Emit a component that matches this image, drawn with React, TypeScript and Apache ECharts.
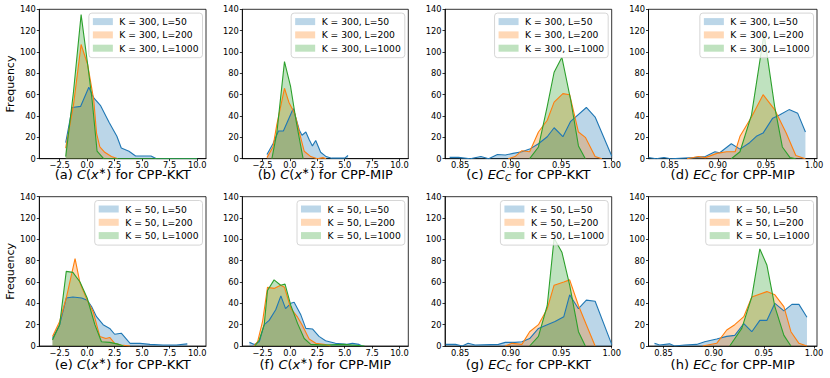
import React, { useEffect, useRef } from "react";
import * as echarts from "echarts";

const TOP_NAMES = ["K = 300, L=50", "K = 300, L=200", "K = 300, L=1000"];
const BOTTOM_NAMES = ["K = 50, L=50", "K = 50, L=200", "K = 50, L=1000"];
const C_TICKS = [-2.5, 0, 2.5, 5, 7.5, 10];
const EC_TICKS = [0.85, 0.9, 0.95, 1.0];

type P = [number, number][];

// (a) C(x*) for CPP-KKT, K=300
const aBlue: P = [[-1.95, 15], [-1.35, 48], [-0.6, 49], [0.15, 67], [0.6, 57], [1.2, 50], [2.0, 34], [2.7, 21], [3.1, 10], [3.8, 7], [4.4, 2.5], [5.8, 2.5], [6.3, 0], [10, 0]];
const aOrange: P = [[-1.95, 10], [-1.25, 50], [-0.55, 107], [0.05, 88], [0.6, 55], [0.85, 24], [1.15, 11], [1.6, 6], [2.2, 2], [2.8, 0]];
const aGreen: P = [[-1.95, 2], [-1.25, 62], [-0.55, 135], [0.05, 88], [0.45, 55], [0.9, 7], [1.5, 0], [10, 0]];
// (b) C(x*) for CPP-MIP, K=300
const bBlue: P = [[-2.1, 4], [-1.55, 14], [-1.05, 26], [-0.6, 26], [0.3, 47], [0.85, 27], [1.1, 22], [1.45, 25], [1.75, 18], [2.05, 12], [2.35, 17], [2.8, 6], [3.3, 2], [3.8, 0.5], [5.0, 0.5], [5.3, 3]];
const bOrange: P = [[-2.1, 1], [-1.55, 11], [-1.2, 32], [-0.5, 66], [-0.1, 53], [0.45, 42], [0.95, 21], [1.3, 7], [1.9, 2], [2.5, 0], [3.0, 1], [3.3, 0]];
const bGreen: P = [[-1.65, 0], [-1.2, 24], [-0.5, 91], [0.05, 68], [0.6, 33], [1.2, 0]];
// (c) EC_C for CPP-KKT, K=300
const cBlue: P = [[0.8396, 1.2], [0.8483, 1.2], [0.8599, 0], [0.8705, 2], [0.8782, 0], [0.8869, 4], [0.8947, 3.4], [0.9024, 5], [0.9111, 6.5], [0.9188, 9], [0.9275, 14], [0.9362, 20.6], [0.943, 29], [0.9517, 20.6], [0.9594, 35], [0.9749, 48], [0.9836, 39], [1.0, 2.5]];
const cOrange: P = [[0.8976, 0], [0.9043, 2], [0.9111, 7.5], [0.9188, 6.5], [0.9275, 25], [0.9362, 36], [0.943, 53], [0.9517, 61], [0.9584, 60], [0.9671, 25], [0.9739, 20], [0.9836, 2], [0.9903, 0]];
const cGreen: P = [[0.9188, 0], [0.9275, 11], [0.9362, 49], [0.943, 81], [0.9507, 95], [0.9594, 55], [0.9671, 12], [0.9739, 0]];
// (d) EC_C for CPP-MIP, K=300
const dBlue: P = [[0.828, 1.2], [0.836, 0], [0.844, 1.2], [0.851, 0], [0.875, 1], [0.887, 2], [0.897, 6.5], [0.902, 5.6], [0.914, 14], [0.923, 9], [0.933, 15], [0.94, 21], [0.947, 24], [0.957, 38], [0.964, 41], [0.974, 46], [0.983, 42.5], [0.991, 25]];
const dOrange: P = [[0.868, 0], [0.88, 2], [0.887, 1], [0.899, 5], [0.909, 6.5], [0.918, 6.5], [0.923, 21], [0.935, 39], [0.947, 60], [0.959, 46], [0.971, 24], [0.981, 3], [0.991, 0]];
const dGreen: P = [[0.914, 0], [0.923, 6.5], [0.935, 41], [0.948, 117], [0.959, 49], [0.967, 11], [0.975, 1], [0.981, 0]];
// (e) C(x*) for CPP-KKT, K=50
const eBlue: P = [[-3.15, 7], [-2.5, 20], [-1.9, 45], [-1.3, 46], [-0.5, 45], [0, 43], [0.4, 37], [0.85, 27.5], [1.45, 20], [2.05, 16.5], [2.5, 11], [3.1, 12], [3.9, 2.5], [4.8, 2.5], [5.7, 1.5], [6.9, 1], [8.1, 1], [9.1, 2]];
const eOrange: P = [[-3.15, 9], [-2.5, 23], [-1.9, 45], [-1.1, 82], [-0.65, 59], [0, 43], [0.55, 32], [1.15, 9], [1.7, 7], [2.05, 8], [2.5, 2.5], [3.1, 1], [3.9, 0]];
const eGreen: P = [[-3.15, 5.6], [-2.5, 20], [-1.9, 70], [-1.3, 69], [-0.65, 60], [0, 45], [0.7, 20], [1.3, 4], [2.05, 3.4], [2.7, 2], [3.3, 0]];
// (f) C(x*) for CPP-MIP, K=50
const fBlue: P = [[-3.7, 3.4], [-3.25, 1.5], [-2.8, 4], [-2.35, 20], [-1.9, 24], [-1.3, 34], [-0.83, 47], [-0.4, 35], [0.08, 40], [0.38, 41], [1.0, 29], [1.45, 16.5], [2.05, 16], [2.65, 9], [3.25, 5], [4.15, 2.5], [5.2, 1.5], [5.7, 2.5], [6.3, 1.5], [6.6, 0]];
const fOrange: P = [[-3.3, 0], [-2.95, 4], [-2.5, 23], [-2.05, 55], [-1.45, 54], [-0.85, 57], [-0.5, 55], [0.08, 35], [0.7, 27], [1.1, 20], [1.75, 6.5], [2.35, 2.5], [3.1, 1.5], [3.7, 0]];
const fGreen: P = [[-3.2, 0], [-2.8, 5.6], [-2.35, 20], [-2.05, 52], [-1.45, 62], [-0.85, 57], [-0.45, 58], [0.08, 38], [0.7, 21], [1.3, 7], [1.9, 1.5], [3.1, 1], [4.9, 1.5], [6.8, 0]];
// (g) EC_C for CPP-KKT, K=50
const gBlue: P = [[0.8357, 1.5], [0.8454, 1.5], [0.8521, 0], [0.8579, 2.5], [0.8647, 1], [0.8879, 1.5], [0.8947, 3.4], [0.9043, 3.4], [0.9111, 4], [0.9188, 7], [0.9275, 16.5], [0.9362, 20], [0.9439, 23], [0.9526, 27.5], [0.9584, 48], [0.9671, 35], [0.9749, 43], [0.9836, 42], [1.0, 1.5]];
const gOrange: P = [[0.8947, 0], [0.9014, 2.5], [0.9111, 1.5], [0.9188, 13.4], [0.9275, 20], [0.9362, 35], [0.943, 57], [0.9526, 60], [0.9584, 62], [0.9671, 38], [0.9749, 20], [0.9836, 0]];
const gGreen: P = [[0.9188, 0], [0.9275, 9], [0.9362, 38], [0.943, 101], [0.9507, 88], [0.9584, 57], [0.9671, 13.4], [0.9739, 0]];
// (h) EC_C for CPP-MIP, K=50
const hBlue: P = [[0.841, 2.5], [0.846, 1], [0.856, 2], [0.861, 0], [0.871, 1], [0.883, 1.5], [0.891, 4], [0.903, 6.5], [0.913, 9], [0.921, 10], [0.93, 21], [0.938, 13.4], [0.946, 24], [0.953, 24], [0.961, 40], [0.97, 33], [0.978, 39], [0.985, 39], [0.993, 27]];
const hOrange: P = [[0.889, 0], [0.903, 2.5], [0.913, 15], [0.921, 20], [0.93, 27.5], [0.938, 46], [0.953, 51], [0.961, 48], [0.97, 37], [0.977, 13.4], [0.985, 2.5], [0.993, 0]];
const hGreen: P = [[0.916, 0], [0.928, 16.5], [0.938, 46], [0.946, 91], [0.953, 76], [0.961, 37], [0.97, 10], [0.977, 0]];

const COLORS = ["#1f77b4", "#ff7f0e", "#2ca02c"];
const LEG_COLORS = ["rgba(31,119,180,0.3)", "rgba(255,127,14,0.3)", "rgba(44,160,44,0.3)"];
const FONT = "DejaVu Sans";

const W = 830;
const H = 378;

type Panel = {
  letter: string;
  kind: "C" | "EC";
  method: string;
  left: number;
  top: number;
  width: number;
  height: number;
  titleY: number;
  xMin: number;
  xMax: number;
  names: string[];
  data: P[];
  yName: boolean;
};

const panels: Panel[] = [
  { letter: "a", kind: "C", method: "CPP-KKT", left: 39.3, top: 9.3, width: 166.7, height: 149.4, titleY: 174.5, xMin: -4.35, xMax: 10.8, names: TOP_NAMES, data: [aBlue, aOrange, aGreen], yName: true },
  { letter: "b", kind: "C", method: "CPP-MIP", left: 242.3, top: 9.3, width: 166, height: 149.4, titleY: 174.5, xMin: -4.35, xMax: 10.8, names: TOP_NAMES, data: [bBlue, bOrange, bGreen], yName: false },
  { letter: "c", kind: "EC", method: "CPP-KKT", left: 445, top: 9.3, width: 166.7, height: 149.4, titleY: 174.5, xMin: 0.835, xMax: 1.0, names: TOP_NAMES, data: [cBlue, cOrange, cGreen], yName: false },
  { letter: "d", kind: "EC", method: "CPP-MIP", left: 648.5, top: 9.3, width: 168.5, height: 149.4, titleY: 174.5, xMin: 0.828, xMax: 1.003, names: TOP_NAMES, data: [dBlue, dOrange, dGreen], yName: false },
  { letter: "e", kind: "C", method: "CPP-KKT", left: 39.3, top: 196.7, width: 166.7, height: 149.3, titleY: 364.5, xMin: -4.35, xMax: 10.8, names: BOTTOM_NAMES, data: [eBlue, eOrange, eGreen], yName: true },
  { letter: "f", kind: "C", method: "CPP-MIP", left: 242.3, top: 196.7, width: 166, height: 149.3, titleY: 364.5, xMin: -4.35, xMax: 10.8, names: BOTTOM_NAMES, data: [fBlue, fOrange, fGreen], yName: false },
  { letter: "g", kind: "EC", method: "CPP-KKT", left: 445, top: 196.7, width: 166.7, height: 149.3, titleY: 364.5, xMin: 0.835, xMax: 1.0, names: BOTTOM_NAMES, data: [gBlue, gOrange, gGreen], yName: false },
  { letter: "h", kind: "EC", method: "CPP-MIP", left: 648.5, top: 196.7, width: 168.5, height: 149.3, titleY: 364.5, xMin: 0.835, xMax: 1.003, names: BOTTOM_NAMES, data: [hBlue, hOrange, hGreen], yName: false },
];

function fmtC(v: number) {
  return (v < 0 ? "\u2212" : "") + Math.abs(v).toFixed(1);
}
function fmtEC(v: number) {
  return v.toFixed(2);
}

const TICK_FS = 8.3;
const TITLE_FS = 13;

function buildOption() {
  const grid = panels.map((p) => ({
    left: p.left,
    top: p.top,
    width: p.width,
    height: p.height,
    show: true,
    borderColor: "#000",
    borderWidth: 0.8,
    backgroundColor: "transparent",
    containLabel: false,
  }));
  const xAxis = panels.map((p, i) => {
    const ticks = p.kind === "C" ? C_TICKS : EC_TICKS;
    return {
      type: "value",
      gridIndex: i,
      min: p.xMin,
      max: p.xMax,
      axisLine: { show: true, onZero: false, lineStyle: { color: "#000", width: 0.8 } },
      axisTick: { show: true, length: 2.5, customValues: ticks, lineStyle: { color: "#000", width: 0.8 } },
      axisLabel: {
        customValues: ticks,
        formatter: (v: number) => (p.kind === "C" ? fmtC(v) : fmtEC(v)),
        fontSize: TICK_FS,
        lineHeight: 8,
        fontFamily: FONT,
        color: "#000",
        margin: 2.5,
      },
      splitLine: { show: false },
    };
  });
  const yAxis = panels.map((p, i) => ({
    type: "value",
    gridIndex: i,
    min: 0,
    max: 140,
    interval: 20,
    axisLine: { show: true, onZero: false, lineStyle: { color: "#000", width: 0.8 } },
    axisTick: { show: true, length: 2.5, lineStyle: { color: "#000", width: 0.8 } },
    axisLabel: { fontSize: TICK_FS, lineHeight: 8, fontFamily: FONT, color: "#000", margin: 3.5 },
    splitLine: { show: false },
  }));
  const series: any[] = [];
  panels.forEach((p, i) => {
    p.data.forEach((d, k) => {
      series.push({
        type: "line",
        name: p.names[k],
        xAxisIndex: i,
        yAxisIndex: i,
        data: d,
        showSymbol: false,
        symbol: "none",
        silent: true,
        lineStyle: { color: COLORS[k], width: 1.1 },
        itemStyle: { color: COLORS[k] },
        areaStyle: { color: COLORS[k], opacity: 0.3 },
      });
    });
  });
  const legend = panels.map((p) => ({
    orient: "vertical",
    right: W - (p.left + p.width) + 3.5,
    top: p.top + 3.8,
    data: p.names.map((n, k) => ({ name: n, itemStyle: { color: LEG_COLORS[k], borderWidth: 0 } })),
    icon: "rect",
    itemWidth: 20,
    itemHeight: 7,
    itemGap: 2.3,
    selectedMode: false,
    textStyle: { fontSize: 9.2, fontFamily: FONT, color: "#000", lineHeight: 11, padding: [0, 0, 0, 1.5] },
    backgroundColor: "rgba(255,255,255,0.8)",
    borderColor: "#cccccc",
    borderWidth: 0.8,
    borderRadius: 3,
    padding: [3, 4, 4, 4],
  }));
  const rich = {
    n: { fontSize: TITLE_FS, fontFamily: FONT, lineHeight: 16, fill: "#000" },
    i: { fontStyle: "italic", fontSize: TITLE_FS, fontFamily: FONT, lineHeight: 16, fill: "#000" },
    sup: { fontSize: 9, fontFamily: FONT, verticalAlign: "top", lineHeight: 9, fill: "#000" },
    sub: { fontStyle: "italic", fontSize: 9, fontFamily: FONT, verticalAlign: "bottom", lineHeight: 9, fill: "#000" },
  };
  const graphic: any[] = panels.map((p) => {
    const text =
      p.kind === "C"
        ? `{n|(${p.letter}) }{i|C}{n|(}{i|x}{sup|\u2217}{n|) for ${p.method}}`
        : `{n|(${p.letter}) }{i|EC}{sub|C}{n| for ${p.method}}`;
    return {
      type: "text",
      x: p.left + p.width / 2,
      y: p.titleY,
      style: { text, rich, align: "center", verticalAlign: "middle", fontSize: TITLE_FS, fontFamily: FONT, fill: "#000" },
      silent: true,
    };
  });
  panels.forEach((p) => {
    if (p.yName) {
      graphic.push({
        type: "text",
        x: 10.7,
        y: p.top + p.height / 2,
        rotation: Math.PI / 2,
        style: { text: "Frequency", align: "center", verticalAlign: "middle", fontSize: 11, fontFamily: FONT, fill: "#000" },
        silent: true,
      });
    }
  });
  return {
    animation: false,
    backgroundColor: "#fff",
    grid,
    xAxis,
    yAxis,
    series,
    legend,
    graphic,
  };
}

export default function App() {
  const ref = useRef<HTMLDivElement>(null);
  useEffect(() => {
    if (!ref.current) return;
    const chart = echarts.init(ref.current, undefined, { renderer: "svg" });
    chart.setOption(buildOption() as any);
    return () => chart.dispose();
  }, []);
  return <div ref={ref} style={{ position: "fixed", left: 0, top: 0, width: W, height: H }} />;
}
